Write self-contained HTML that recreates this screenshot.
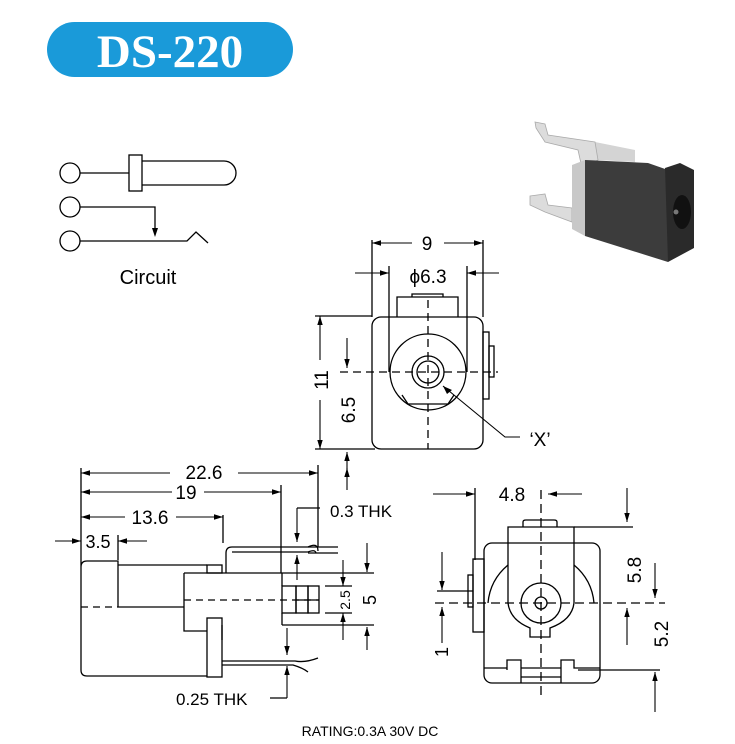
<!DOCTYPE html>
<html><head><meta charset="utf-8"><style>body{margin:0;background:#fff}svg{display:block}</style></head><body>
<svg width="735" height="744" viewBox="0 0 735 744" xmlns="http://www.w3.org/2000/svg" font-family="Liberation Sans, Arial, sans-serif">
<defs><marker id="a" viewBox="0 0 10 10" refX="10" refY="5" markerWidth="9" markerHeight="9" orient="auto-start-reverse" markerUnits="userSpaceOnUse"><path d="M0,2 L10,5 L0,8 z" fill="#000"/></marker></defs>
<rect x="47" y="22" width="246" height="55" rx="27.5" fill="#1a9ad9"/>
<text x="170" y="67" text-anchor="middle" font-family="Liberation Serif, serif" font-weight="bold" font-size="47" fill="#fff">DS-220</text>
<g stroke="#000" stroke-width="1.3" fill="none">
<circle cx="70" cy="173" r="10"/><circle cx="70" cy="207" r="10"/><circle cx="70" cy="241" r="10"/>
<path d="M80,173H129M80,207H155V232M80,241H187L196,232L208,243"/>
<rect x="129" y="155" width="13" height="36"/>
<path d="M142,161H224A12,12 0 0 1 224,185H142"/>
</g>
<path d="M152,228L155,237L158,228z"/>
<text x="148" y="284" text-anchor="middle" font-size="20">Circuit</text>
<!-- photo -->
<g>
<path d="M595,142L635,150L635,162L598,160z" fill="#d4d4d4"/>
<path d="M535,122L545,124L548,135L595,142L598,160L582,168L578,150L545,142L536,128z" fill="#dcdcdc" stroke="#aaa" stroke-width="0.8"/>
<path d="M530,196L545,194L548,205L572,208L572,222L545,212L530,205z" fill="#dcdcdc" stroke="#aaa" stroke-width="0.8"/>
<path d="M572,165L585,160L585,236L572,229z" fill="#c8c8c8"/>
<path d="M585,160L648,163L668,170L668,262L585,236z" fill="#3c3c3c"/>
<path d="M665,168L680,163L694,170L694,248L668,262z" fill="#2a2a2a"/>
<ellipse cx="682" cy="212" rx="9" ry="17" fill="#111"/>
<circle cx="676" cy="212" r="2.5" fill="#777"/>
</g>
<g stroke="#000" stroke-width="1.3" fill="none">
<rect x="372" y="317" width="111" height="132" rx="9"/>
<path d="M397,317V297H458V317M412,297V294H443V297"/>
<circle cx="428" cy="372" r="38"/><circle cx="428" cy="372" r="16"/><circle cx="428" cy="372" r="11"/>
<path d="M408,404L402,395M448,404L454,395M408,404H448"/>
<rect x="483" y="332" width="6" height="67"/><rect x="489" y="346" width="5" height="31"/>
<path d="M340,372H498M428,300V449" stroke-dasharray="8,5"/>
<path d="M372,317V240M483,317V240M389,372V266M467,372V266"/>
<path d="M315,316H372M315,449H375"/>
<path d="M443,386L505,437H520" stroke-width="1.1"/>
</g>
<g stroke="#000" stroke-width="1.1" fill="none" marker-end="url(#a)">
<path d="M412,243H372"/><path d="M444,243H483"/>
<path d="M355,273H389"/><path d="M499,273H467"/>
<path d="M320,360V316"/><path d="M320,400V449"/>
<path d="M347,338V368"/><path d="M347,470V452"/>
</g>
<path d="M443,386L452,390L447,394z"/>
<text x="427" y="250" text-anchor="middle" font-size="19">9</text>
<text x="428" y="283" text-anchor="middle" font-size="19">ϕ6.3</text>
<text transform="translate(328,380) rotate(-90)" text-anchor="middle" font-size="19">11</text>
<text transform="translate(355,410) rotate(-90)" text-anchor="middle" font-size="19">6.5</text>
<text x="540" y="446" text-anchor="middle" font-size="19">‘X’</text>
<g stroke="#000" stroke-width="1.3" fill="none">
<path d="M81,468V670Q81,676 87,676H207M81,567Q81,561 87,561H118V607M118,565H207M118,607H184"/>
<path d="M81,607H118" stroke-dasharray="7,5"/>
<rect x="207" y="565" width="15" height="8"/>
<path d="M184,573V631H207M184,573H374M282,573V586M282,625H374M282,613V625"/>
<rect x="282" y="586" width="14" height="27"/><rect x="296" y="586" width="12" height="27"/><rect x="308" y="586" width="11" height="27"/>
<path d="M296,600H319"/>
<path d="M184,600H319" stroke-dasharray="7,5"/>
<rect x="207" y="618" width="15" height="59"/>
<path d="M222,625V640"/>
<path d="M226,573V553Q226,547 232,547H308Q318,542 318,551M232,552H308Q315,549 316,553"/>
<path d="M222,661H295Q305,663 318,658M222,665H293Q303,668 308,672"/>
<path d="M318,465V547M281,485V573M223,515V543M118,535V560"/>
<path d="M308,547H338M308,553H338M325,586H352M325,613H352M297,508H320"/>
<path d="M287,698H270"/>
</g>
<g stroke="#000" stroke-width="1.1" fill="none" marker-end="url(#a)">
<path d="M170,473H81"/><path d="M238,473H318"/>
<path d="M172,492H81"/><path d="M204,492H281"/>
<path d="M125,517H81"/><path d="M176,517H223"/>
<path d="M55,541H81"/><path d="M147,541H118"/>
<path d="M297,508V542"/><path d="M297,580V555"/>
<path d="M287,628V655"/><path d="M287,698V666"/>
<path d="M343,560V586"/><path d="M343,640V613"/>
<path d="M367,543V572"/><path d="M367,650V627"/>
<path d="M347,490V468"/>
</g>
<text x="204" y="479" text-anchor="middle" font-size="19">22.6</text>
<text x="186" y="499" text-anchor="middle" font-size="19">19</text>
<text x="150" y="524" text-anchor="middle" font-size="19">13.6</text>
<text x="98" y="548" text-anchor="middle" font-size="18">3.5</text>
<text x="330" y="517" font-size="17">0.3 THK</text>
<text x="176" y="705" font-size="17">0.25 THK</text>
<text transform="translate(350,600) rotate(-90)" text-anchor="middle" font-size="14">2.5</text>
<text transform="translate(376,600) rotate(-90)" text-anchor="middle" font-size="18">5</text>
<g stroke="#000" stroke-width="1.3" fill="none">
<rect x="484" y="543" width="116" height="140" rx="8"/>
<path d="M508,603V527H574V603M523,527V522Q523,520 526,520H554Q557,520 557,522V527"/>
<circle cx="541" cy="603" r="20"/><circle cx="541" cy="603" r="6"/>
<path d="M508,565Q490,580 488,603M574,565Q592,580 594,603"/>
<path d="M508,603Q510,620 530,628V637H550V628Q572,620 574,603"/>
<path d="M484,668H507V670M507,668V660H521V668H561V660H574V668H600M521,668V683M561,668V683M521,677H561"/>
<rect x="473" y="559" width="11" height="73"/><rect x="468" y="575" width="5" height="32"/>
<path d="M435,603H665M541,490V695" stroke-dasharray="9,5"/>
<path d="M475,488V560M574,527H633M578,670H660M437,591H473"/>
</g>
<g stroke="#000" stroke-width="1.1" fill="none" marker-end="url(#a)">
<path d="M433,494H475"/><path d="M582,494H548"/>
<path d="M627,488V522"/>
<path d="M655,563V598"/><path d="M627,645V608"/>
<path d="M655,712V672"/>
<path d="M442,552V590"/><path d="M442,643V607"/>
</g>
<text x="512" y="501" text-anchor="middle" font-size="19">4.8</text>
<text transform="translate(641,570) rotate(-90)" text-anchor="middle" font-size="19">5.8</text>
<text transform="translate(668,634) rotate(-90)" text-anchor="middle" font-size="19">5.2</text>
<text transform="translate(448,652) rotate(-90)" text-anchor="middle" font-size="18">1</text>
<text x="370" y="736" text-anchor="middle" font-size="14">RATING:0.3A 30V DC</text>
</svg>
</body></html>
